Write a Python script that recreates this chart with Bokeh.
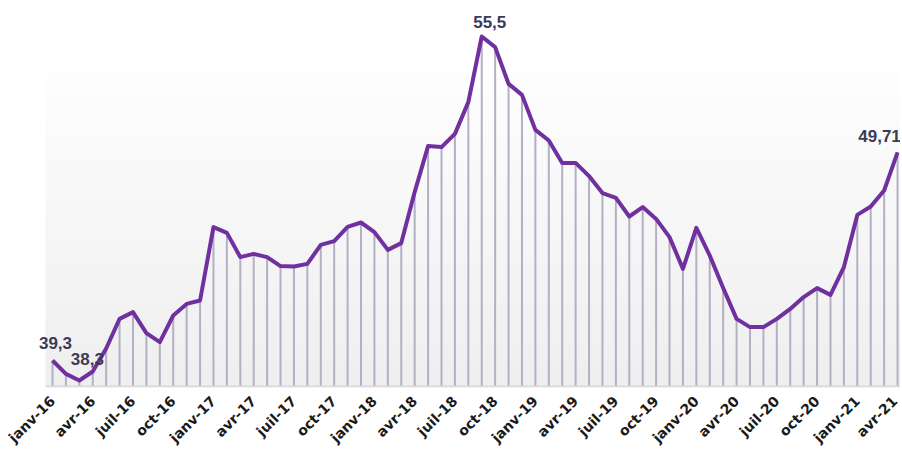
import numpy as np
from bokeh.plotting import figure
from bokeh.models import FixedTicker, Range1d
from bokeh.core.properties import value
from bokeh.embed import file_html
from bokeh.resources import INLINE
import math

months = ["janv", "févr", "mars", "avr", "mai", "juin", "juil", "août", "sept", "oct", "nov", "déc"]
years = ["16", "17", "18", "19", "20", "21"]
categories = [f"{m}-{y}" for y in years for m in months][:64]

values = [
    39.3, 38.63, 38.3, 38.75, 39.9, 41.38, 41.72, 40.67, 40.22, 41.55, 42.13, 42.3,
    45.97, 45.68, 44.47, 44.63, 44.47, 44.02, 44.0, 44.13, 45.08, 45.27, 45.98, 46.2,
    45.72, 44.83, 45.17, 47.72, 50.02, 49.97, 50.63, 52.22, 55.5, 54.97, 53.13, 52.58,
    50.83, 50.3, 49.17, 49.18, 48.52, 47.67, 47.43, 46.5, 46.97, 46.38, 45.47, 43.88,
    45.93, 44.55, 42.93, 41.38, 40.97, 40.97, 41.38, 41.88, 42.47, 42.92, 42.58, 43.97,
    46.58, 47.0, 47.8, 49.71,
]
tick_idx = list(range(0, 64, 3))
tick_labels = [categories[i] for i in tick_idx]

label_idx = [0, 2, 32, 63]
label_dx = [3, 8, 8, -18]
label_dy = [-18, -22, -15, -16]

base = 38.0
y_min, y_max = 37.95, 57.1
plot_left = -0.522          # left edge of the shaded plot area (data units)
x_start, x_end = -3.877, 63.22

x = list(range(len(values)))

p = figure(width=900, height=454, output_backend="svg", toolbar_location=None,
           x_range=Range1d(x_start, x_end), y_range=Range1d(y_min, y_max),
           min_border_left=0, min_border_right=0, min_border_top=4, min_border_bottom=67)
p.outline_line_color = None
p.grid.visible = False
p.yaxis.visible = False
p.background_fill_color = "white"
p.border_fill_color = "white"

# vertical gradient background (white top -> light gray bottom)
n = 100
t = np.linspace(0, 1, n)  # 0 bottom, 1 top
g = (239 + (255 - 239) * np.clip(t * 1.15, 0, 1)).astype(np.uint32)
img = np.empty((n, 1), dtype=np.uint32)
view = img.view(dtype=np.uint8).reshape((n, 1, 4))
view[:, 0, 0] = g
view[:, 0, 1] = g
view[:, 0, 2] = g
view[:, 0, 3] = 255
p.image_rgba(image=[img], x=plot_left, y=base, dw=x_end - plot_left, dh=y_max - base, level="image")

# drop lines
p.segment(x0=x, y0=[base] * len(x), x1=x, y1=values, line_color="#b3b0c4", line_width=2)
# base line
p.segment(x0=[plot_left], y0=[base], x1=[x_end], y1=[base], line_color="#d9d9d9", line_width=2)
# main line
p.line(x, values, line_color="#7030a0", line_width=4, line_join="round")

# data labels
lab_x = [label_idx[i] for i in range(len(label_idx))]
lab_y = [values[i] for i in label_idx]
lab_t = [f"{values[i]:g}".replace(".", ",") for i in label_idx]
for xx, yy, tt, dx, dy in zip(lab_x, lab_y, lab_t, label_dx, label_dy):
    p.text(x=[xx], y=[yy], text=[tt], x_offset=dx, y_offset=dy,
           text_align="center", text_baseline="alphabetic",
           text_font=value("Liberation Sans"), text_font_style="bold",
           text_font_size="17px", text_color="#3a3a5a")

p.xaxis.ticker = FixedTicker(ticks=tick_idx)
p.xaxis.major_label_overrides = {i: l for i, l in zip(tick_idx, tick_labels)}
p.xaxis.major_label_orientation = math.pi / 4
p.xaxis.major_label_text_font = "DejaVu Sans"
p.xaxis.major_label_text_font_style = "bold"
p.xaxis.major_label_text_font_size = "14px"
p.xaxis.major_label_text_color = "#1a1a1a"
p.xaxis.major_tick_line_color = None
p.xaxis.minor_tick_line_color = None
p.xaxis.major_tick_out = 0
p.xaxis.major_tick_in = 0
p.xaxis.minor_tick_out = 0
p.xaxis.axis_line_color = None
p.xaxis.major_label_standoff = 11

open("out.html", "w").write(file_html(p, INLINE))
